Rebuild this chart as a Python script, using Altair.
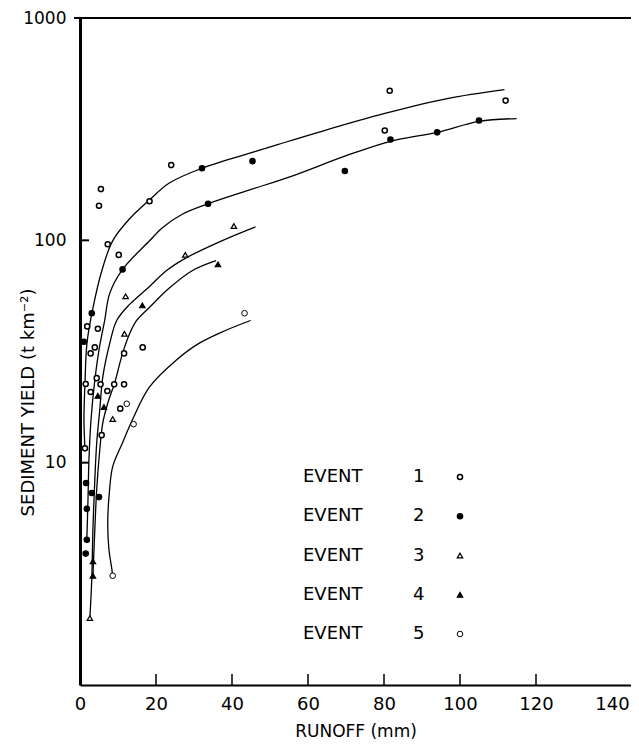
import altair as alt
import pandas as pd

# ---------------- data ----------------
EVENTS = ["1", "2", "3", "4", "5"]

E1_X = [5.5, 5.0, 18.3, 24.0, 7.3, 10.2, 1.9, 4.7, 3.9, 2.8, 16.5, 11.6, 1.5, 4.4, 5.4,
        2.8, 7.2, 9.0, 11.6, 10.6, 5.7, 1.3, 81.5, 112.0, 80.2]
E1_Y = [170, 143, 150, 218, 96, 86, 41, 40, 33, 31, 33, 31, 22.6, 24, 22.5,
        20.8, 21, 22.5, 22.5, 17.5, 13.3, 11.6, 471, 425, 312]

E2_X = [11.2, 3.1, 1.0, 1.6, 3.1, 5.0, 1.8, 1.8, 1.5, 32.1, 33.7, 45.4, 69.7, 81.7, 94.0, 105.0]
E2_Y = [74, 47, 35, 8.1, 7.3, 7.0, 6.2, 4.5, 3.9, 211, 146, 227, 205, 284, 306, 346]

E3_X = [40.5, 27.7, 12.0, 11.7, 8.6, 2.6]
E3_Y = [116, 86, 56, 38, 15.7, 2.0]

E4_X = [36.3, 16.4, 4.7, 6.3, 3.4, 3.4]
E4_Y = [78, 51, 20, 17.8, 3.6, 3.1]

E5_X = [43.3, 12.3, 14.1, 8.6]
E5_Y = [47, 18.4, 14.9, 3.1]

# fitted curves (hand-drawn in the reference)
C1_X = [111.7, 96.6, 80.2, 62.7, 52.2, 46.2, 32.1, 23.5, 18.3, 13.05, 8.6, 5.74, 3.13, 1.83, 1.3, 1.04, 1.3]
C1_Y = [476, 434, 372, 306, 270, 251, 211, 181, 152, 125, 99.5, 73, 47, 34.4, 22.6, 15.6, 11.6]

C2_X = [114.9, 105.0, 94.0, 81.7, 69.7, 55.6, 44.4, 33.7, 26.9, 21.7, 18.3, 11.2, 7.8, 6.5, 5.2, 3.9, 2.9, 2.35, 2.1, 1.8]
C2_Y = [353, 343, 306, 279, 239, 194, 168, 146, 131, 114, 99.5, 74, 57.6, 43.6, 33.7, 23.5, 15.6, 10.3, 6.8, 4.5]

C3_X = [46.2, 37.3, 27.7, 22.7, 18.3, 13.05, 9.66, 7.83, 6.0, 5.2, 4.4, 3.9, 3.4, 3.1, 2.6]
C3_Y = [115, 99.5, 83, 73, 62, 51.5, 43.6, 34.4, 24.3, 17.3, 12.3, 8.4, 5.0, 3.0, 2.0]

C4_X = [35.8, 29.5, 23.5, 18.3, 14.9, 13.05, 11.2, 9.1, 7.3, 6.0, 5.2, 4.4, 3.9, 3.4]
C4_Y = [81, 73, 61, 50, 43.6, 38, 31, 22.8, 18.5, 15.1, 11.4, 7.6, 5.0, 3.1]

C5_X = [44.9, 38.4, 31.3, 25.3, 18.3, 13.8, 11.2, 8.6, 7.8, 7.3, 7.6, 8.4, 8.6]
C5_Y = [43.6, 39.4, 34.4, 28.9, 21.9, 15.6, 12.3, 9.6, 7.6, 5.4, 4.1, 3.3, 3.1]

X_LABELS = [0, 20, 40, 60, 80, 100, 120, 140]
X_TICKS = [20, 40, 60, 80, 100, 120]
Y_LABELS = [10, 100, 1000]
Y_TICKS = [10, 100]
LEGEND_LABEL = "EVENT"

# ---------------- tables ----------------
pt_x = [E1_X, E2_X, E3_X, E4_X, E5_X]
pt_y = [E1_Y, E2_Y, E3_Y, E4_Y, E5_Y]
pts = pd.concat([pd.DataFrame({"runoff": xs, "yield": ys, "event": ev})
                 for xs, ys, ev in zip(pt_x, pt_y, EVENTS)], ignore_index=True)

cv_x = [C1_X, C2_X, C3_X, C4_X, C5_X]
cv_y = [C1_Y, C2_Y, C3_Y, C4_Y, C5_Y]
curves = pd.concat([pd.DataFrame({"runoff": xs, "yield": ys, "event": ev, "idx": range(len(xs))})
                    for xs, ys, ev in zip(cv_x, cv_y, EVENTS)], ignore_index=True)

legend_df = pd.DataFrame({"event": EVENTS, "row": list(range(5)),
                          "label": [LEGEND_LABEL] * 5, "num": EVENTS})

# ---------------- styling ----------------
FONT = "DejaVu Sans"
W, H = 551, 667

x_scale = alt.Scale(domain=[0, 145], nice=False, zero=False)
y_scale = alt.Scale(type="log", domain=[1, 1000], nice=False)

x_axis = alt.Axis(values=X_LABELS, ticks=False, grid=False, domainWidth=2, domainColor="black",
                  labelFontSize=18, labelPadding=10, labelFlush=False, labelOverlap=False,
                  titleFontSize=17, titleFontWeight="normal", titleY=38, titleBaseline="top")
y_axis = alt.Axis(values=Y_LABELS, format="d", ticks=False, grid=False, domainWidth=3,
                  domainColor="black", labelFontSize=17, labelPadding=14, labelOverlap=False,
                  titleFontSize=18, titleFontWeight="normal", titleX=-52, titleY=384,
                  titleAlign="center", titleBaseline="middle", titleAngle=270)

X = alt.X("runoff:Q", scale=x_scale, axis=x_axis, title="RUNOFF   (mm)")
Y = alt.Y("yield:Q", scale=y_scale, axis=y_axis, title="SEDIMENT  YIELD    (t km⁻²)")

shape_enc = alt.Shape("event:N", scale=alt.Scale(domain=EVENTS,
                      range=["circle", "circle", "triangle-up", "triangle-up", "circle"]), legend=None)
fill_enc = alt.Fill("event:N", scale=alt.Scale(domain=EVENTS,
                    range=["white", "black", "white", "black", "white"]), legend=None)
size_enc = alt.Size("event:N", scale=alt.Scale(domain=EVENTS, range=[26, 32, 70, 65, 75]), legend=None)
sw_enc = alt.StrokeWidth("event:N", scale=alt.Scale(domain=EVENTS, range=[1.5, 1.0, 1.2, 1.0, 1.6]),
                         legend=None)

lines = alt.Chart(curves).mark_line(color="black", strokeWidth=1.3, interpolate="catmull-rom").encode(
    x=X, y=Y, detail="event:N", order="idx:Q")

points = alt.Chart(pts).mark_point(filled=True, stroke="black", opacity=1).encode(
    x=X, y=Y, shape=shape_enc, fill=fill_enc, size=size_enc, strokeWidth=sw_enc)

xticks = alt.Chart(pd.DataFrame({"runoff": X_TICKS})).mark_rule(color="black", strokeWidth=1.5).encode(
    x=X, y=alt.value(H), y2=alt.value(H - 11))
yticks = alt.Chart(pd.DataFrame({"yield": Y_TICKS})).mark_rule(color="black", strokeWidth=2).encode(
    y=Y, x=alt.value(0), x2=alt.value(9))
top_tick = alt.Chart(pd.DataFrame({"yield": [1000]})).mark_rule(color="black", strokeWidth=2).encode(
    y=Y, x=alt.value(-6), x2=alt.value(W))

main = alt.layer(lines, points, xticks, yticks, top_tick)

leg_y = alt.Y("row:O", scale=alt.Scale(type="point", range=[459, 616], padding=0), axis=None)
leg_text = alt.Chart(legend_df).mark_text(align="left", baseline="middle", fontSize=18,
                                          font=FONT, color="black").encode(
    x=alt.value(223), y=leg_y, text="label:N")
leg_num = alt.Chart(legend_df).mark_text(align="left", baseline="middle", fontSize=18,
                                         font=FONT, color="black").encode(
    x=alt.value(333), y=leg_y, text="num:N")
leg_pts = alt.Chart(legend_df).mark_point(filled=True, stroke="black", opacity=1).encode(
    x=alt.value(380), y=leg_y, shape=shape_enc, fill=fill_enc, size=size_enc, strokeWidth=sw_enc)
legend = alt.layer(leg_text, leg_num, leg_pts)

chart = alt.layer(main, legend).resolve_scale(y="independent").properties(
    width=W, height=H,
    autosize=alt.AutoSizeParams(type="none"),
    padding={"left": 72, "top": 10, "right": 0, "bottom": 60},
    background="white",
).configure_view(strokeWidth=0).configure_axis(
    labelFont=FONT, titleFont=FONT, labelColor="black", titleColor="black")

chart.save("out.html", embed_options={"renderer": "svg", "actions": False})
